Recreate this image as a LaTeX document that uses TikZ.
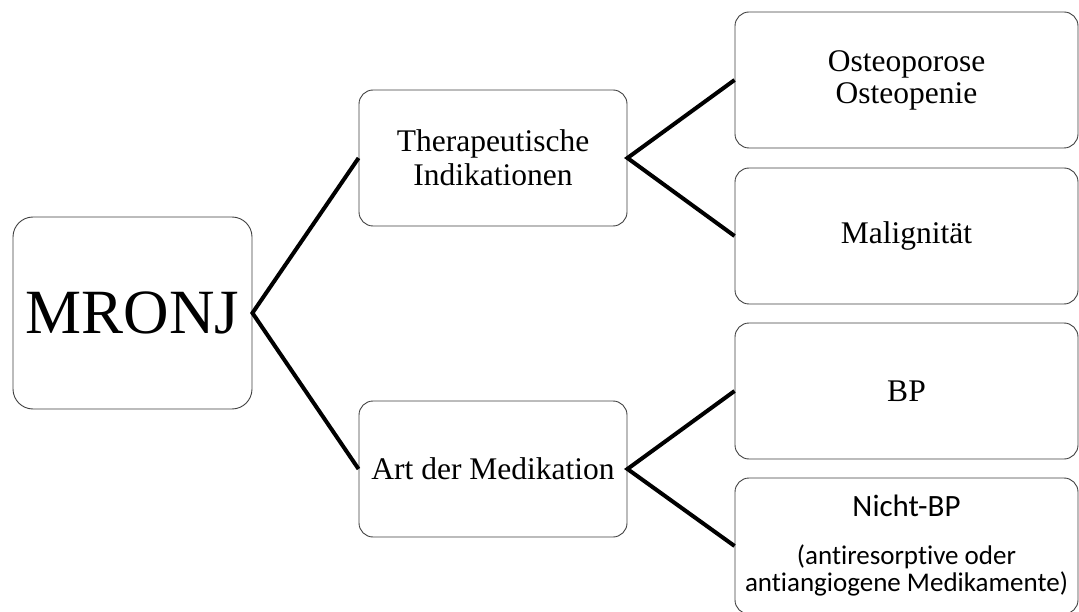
\documentclass[tikz,border=0pt]{standalone}
\usepackage{fontspec}
\setmainfont{Liberation Serif}
\newfontfamily\calibrifont[Ligatures=NoCommon,RawFeature={-liga;-dlig}]{Carlito}
\usetikzlibrary{positioning}

\begin{document}
\begin{tikzpicture}[x=1pt, y=-1pt,
  box/.style={draw=black!75, line width=0.9pt, rounded corners=14pt, fill=white,
              align=center, inner sep=0pt, minimum width=343pt, minimum height=136pt,
              font=\fontsize{31.5}{32}\selectfont},
  midbox/.style={box, minimum width=268pt},
  link/.style={black, line width=4pt}]

\useasboundingbox (0,0) rectangle (1079,612);

% --- root ---
\node[box, minimum width=239pt, minimum height=192pt, rounded corners=20pt,
      font=\fontsize{63}{63}\selectfont] (mronj) at (132.5,313) {MRONJ};

% --- middle level ---
\node[midbox, font=\fontsize{31.5}{34}\selectfont] (indik) at (493,158) {Therapeutische\\Indikationen};
\node[midbox] (medik) at (493,469) {Art der Medikation};

% --- leaves ---
\node[box, font=\fontsize{31.5}{32}\selectfont] (osteo) at (906.5,80) {Osteoporose\\Osteopenie};
\node[box] (malig) at (906.5,236) {Malignit\"at};
\node[box] (bp) at (906.5,391) {BP};
\node[box, font=\calibrifont\fontsize{27}{27}\selectfont] (nichtbp) at (906.5,546)
      {{\fontsize{31}{31}\selectfont Nicht-BP}\\[21pt](antiresorptive oder\\antiangiogene Medikamente)};

% --- connectors ---
\draw[link] (indik.west) -- (mronj.east) -- (medik.west);
\draw[link] (osteo.west) -- (indik.east) -- (malig.west);
\draw[link] (bp.west) -- (medik.east) -- (nichtbp.west);

\end{tikzpicture}
\end{document}
